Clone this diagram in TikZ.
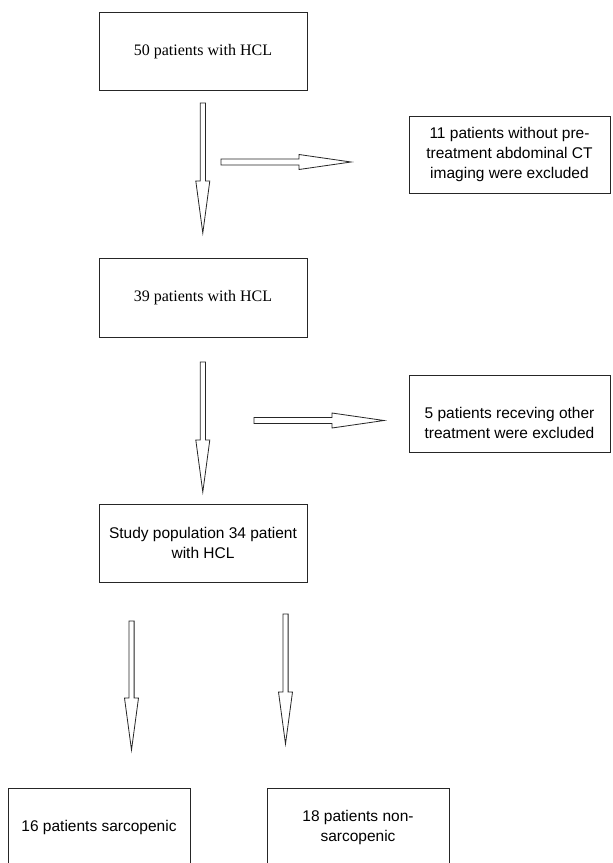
\documentclass[tikz,border=0pt]{standalone}
\usepackage{fontspec}
\setmainfont{Liberation Serif}
\newfontfamily\arialf{Liberation Sans}
\usetikzlibrary{calc}
\tikzset{
  boxnode/.style={draw=black!85, line width=0.9pt, minimum width=208pt, minimum height=78pt, inner sep=0pt, align=center},
  serifbox/.style={boxnode, font=\fontsize{16}{20}\selectfont},
  sansbox/.style={boxnode, font=\arialf\fontsize{15.5}{20}\selectfont},
  sidebox/.style={sansbox, minimum width=201pt, minimum height=77pt},
  lowbox/.style={sansbox, minimum width=182pt, minimum height=78pt},
  sanstext/.style={inner sep=0pt, align=center, font=\arialf\fontsize{15.5}{20}\selectfont},
  blockarr/.style={draw=black!85, line width=0.8pt, fill=white, line join=miter}
}
\newcommand\dnblock[2]{%
  \draw[blockarr] ($(#1)+(-2.6,0)$) -- ($(#2)+(-2.6,-52)$) -- ($(#2)+(-7,-52)$) -- (#2)
    -- ($(#2)+(7,-52)$) -- ($(#2)+(2.6,-52)$) -- ($(#1)+(2.6,0)$) -- cycle;}
\newcommand\rtblock[2]{%
  \draw[blockarr] ($(#1)+(0,-3)$) -- ($(#2)+(-52,-3)$) -- ($(#2)+(-52,-7.5)$) -- (#2)
    -- ($(#2)+(-52,7.5)$) -- ($(#2)+(-52,3)$) -- ($(#1)+(0,3)$) -- cycle;}
\begin{document}
\begin{tikzpicture}[x=1pt, y=-1pt]
\useasboundingbox (0,0) rectangle (613,863);
\clip (0,0) rectangle (613,863);
\fill[white] (0,0) rectangle (613,863);

% boxes
\node[serifbox] (b1) at (203,51.5) {50 patients with HCL};
\node[serifbox, minimum height=79pt] (b3) at (203,297.5) {39 patients with HCL};
\node[sansbox] (b5) at (203,543) {Study population 34 patient\\with HCL};
\node[sidebox] (b2) at (509.5,154.5) {11 patients without pre-\\treatment abdominal CT\\imaging were excluded};
\node[sidebox] (b4) at (509.5,413.5) {};
\node[sanstext] (t4) at (509.5,423) {5 patients receving other\\treatment were excluded};
\node[lowbox] (b6) at (99,827) {16 patients sarcopenic};
\node[lowbox] (b7) at (358,827) {18 patients non-\\sarcopenic};

% arrow end points
\coordinate (a1s) at (202.8,103);
\coordinate (a1e) at (202.8,233);
\coordinate (r1s) at (221,162);
\coordinate (r1e) at (351,162);
\coordinate (a2s) at (202.8,362);
\coordinate (a2e) at (202.8,492);
\coordinate (r2s) at (254,420.5);
\coordinate (r2e) at (384,420.5);
\coordinate (a3s) at (131.5,621);
\coordinate (a3e) at (131.5,750);
\coordinate (a4s) at (285.5,614);
\coordinate (a4e) at (285.5,744);

\dnblock{a1s}{a1e}
\rtblock{r1s}{r1e}
\dnblock{a2s}{a2e}
\rtblock{r2s}{r2e}
\dnblock{a3s}{a3e}
\dnblock{a4s}{a4e}
\end{tikzpicture}
\end{document}
